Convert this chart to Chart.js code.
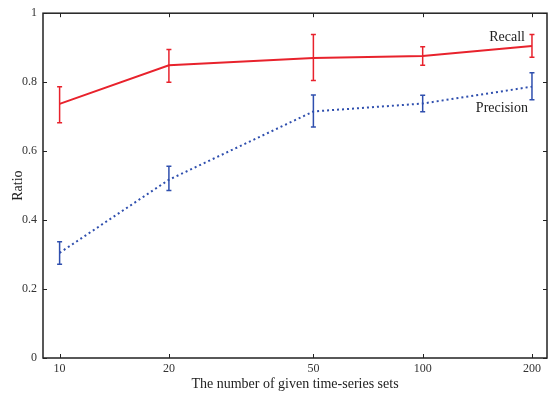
<!DOCTYPE html>
<html>
<head>
<meta charset="utf-8">
<script src="https://cdn.jsdelivr.net/npm/chart.js@4.4.0/dist/chart.umd.min.js"></script>
<style>
  body { margin: 0; background: #fff; }
  #wrap { width: 551px; height: 394px; position: relative; }
</style>
</head>
<body>
<div id="wrap"><canvas id="chart"></canvas></div>
<script>
const xValues = [10, 20, 50, 100, 200];
const recall = [0.737, 0.849, 0.870, 0.876, 0.905];
const recallLow = [0.682, 0.800, 0.805, 0.849, 0.872];
const recallHigh = [0.787, 0.895, 0.938, 0.903, 0.938];
const precision = [0.305, 0.517, 0.715, 0.738, 0.787];
const precisionLow = [0.272, 0.486, 0.670, 0.714, 0.749];
const precisionHigh = [0.337, 0.556, 0.763, 0.762, 0.827];
const yTicks = [0, 0.2, 0.4, 0.6, 0.8, 1];

const red = '#e8222c';
const blue = '#2f4fae';
const serif = "'Liberation Serif', 'DejaVu Serif', serif";

function lineSet(label, values, color, dash) {
    return {
        label: label,
        data: xValues.map((x, i) => ({ x: x, y: values[i] })),
        borderColor: color,
        borderWidth: 2,
        borderDash: dash,
        showLine: true,
        pointRadius: 0,
        order: 2,
    };
}

function errorSets(low, high, color) {
    return xValues.map((x, i) => ({
        data: [{ x: x, y: low[i] }, { x: x, y: high[i] }],
        borderColor: color,
        backgroundColor: color,
        borderWidth: 1.5,
        showLine: true,
        pointStyle: 'line',
        pointRadius: 2.5,
        pointBorderWidth: 1.5,
        pointHoverRadius: 2.5,
        order: 1,
    }));
}

const frame = {
    id: 'frame',
    afterDraw(chart) {
        const { ctx, chartArea: a, scales } = chart;
        ctx.save();
        ctx.strokeStyle = '#222';
        ctx.lineWidth = 1.5;
        ctx.strokeRect(a.left, a.top, a.right - a.left, a.bottom - a.top);
        ctx.lineWidth = 1;
        ctx.beginPath();
        xValues.forEach(v => {
            const px = Math.round(scales.x.getPixelForValue(v)) + 0.5;
            ctx.moveTo(px, a.bottom); ctx.lineTo(px, a.bottom - 4);
            ctx.moveTo(px, a.top); ctx.lineTo(px, a.top + 4);
        });
        yTicks.forEach(v => {
            const py = Math.round(scales.y.getPixelForValue(v)) + 0.5;
            ctx.moveTo(a.left, py); ctx.lineTo(a.left + 4, py);
            ctx.moveTo(a.right, py); ctx.lineTo(a.right - 4, py);
        });
        ctx.stroke();

        // series names next to the last points
        ctx.font = '14px ' + serif;
        ctx.fillStyle = '#222';
        ctx.textAlign = 'right';
        ctx.textBaseline = 'middle';
        const last = xValues.length - 1;
        const lx = scales.x.getPixelForValue(xValues[last]);
        ctx.fillText('Recall', lx - 7, scales.y.getPixelForValue(recall[last]) - 9);
        ctx.fillText('Precision', lx - 4, scales.y.getPixelForValue(precision[last]) + 22);
        ctx.restore();
    }
};

new Chart(document.getElementById('chart'), {
    type: 'scatter',
    data: {
        datasets: [
            lineSet('Recall', recall, red, []),
            lineSet('Precision', precision, blue, [2, 3]),
            ...errorSets(recallLow, recallHigh, red),
            ...errorSets(precisionLow, precisionHigh, blue),
        ]
    },
    options: {
        responsive: true,
        maintainAspectRatio: false,
        animation: false,
        layout: { padding: { top: 12, right: 4, left: 0, bottom: 0 } },
        plugins: {
            legend: { display: false },
            tooltip: { enabled: false },
        },
        scales: {
            x: {
                type: 'logarithmic',
                min: 9,
                max: 220,
                afterBuildTicks: scale => { scale.ticks = xValues.map(v => ({ value: v })); },
                afterFit: scale => { scale.height = 36; },
                grid: { display: false, tickLength: 0 },
                border: { display: false },
                ticks: {
                    color: '#333',
                    font: { family: serif, size: 12 },
                    padding: 4,
                    maxRotation: 0,
                    autoSkip: false,
                    callback: v => String(v),
                },
                title: {
                    display: true,
                    text: 'The number of given time-series sets',
                    color: '#222',
                    font: { family: serif, size: 14 },
                    padding: { top: 0, bottom: 1 },
                },
            },
            y: {
                min: 0,
                max: 1,
                afterBuildTicks: scale => { scale.ticks = yTicks.map(v => ({ value: v })); },
                afterFit: scale => { scale.width = 43; },
                grid: { display: false, tickLength: 0 },
                border: { display: false },
                ticks: {
                    color: '#333',
                    font: { family: serif, size: 12 },
                    padding: 6,
                    callback: v => String(v),
                },
                title: {
                    display: true,
                    text: 'Ratio',
                    color: '#222',
                    font: { family: serif, size: 14 },
                    padding: { top: 10, bottom: 0 },
                },
            },
        },
    },
    plugins: [frame],
});
</script>
</body>
</html>
